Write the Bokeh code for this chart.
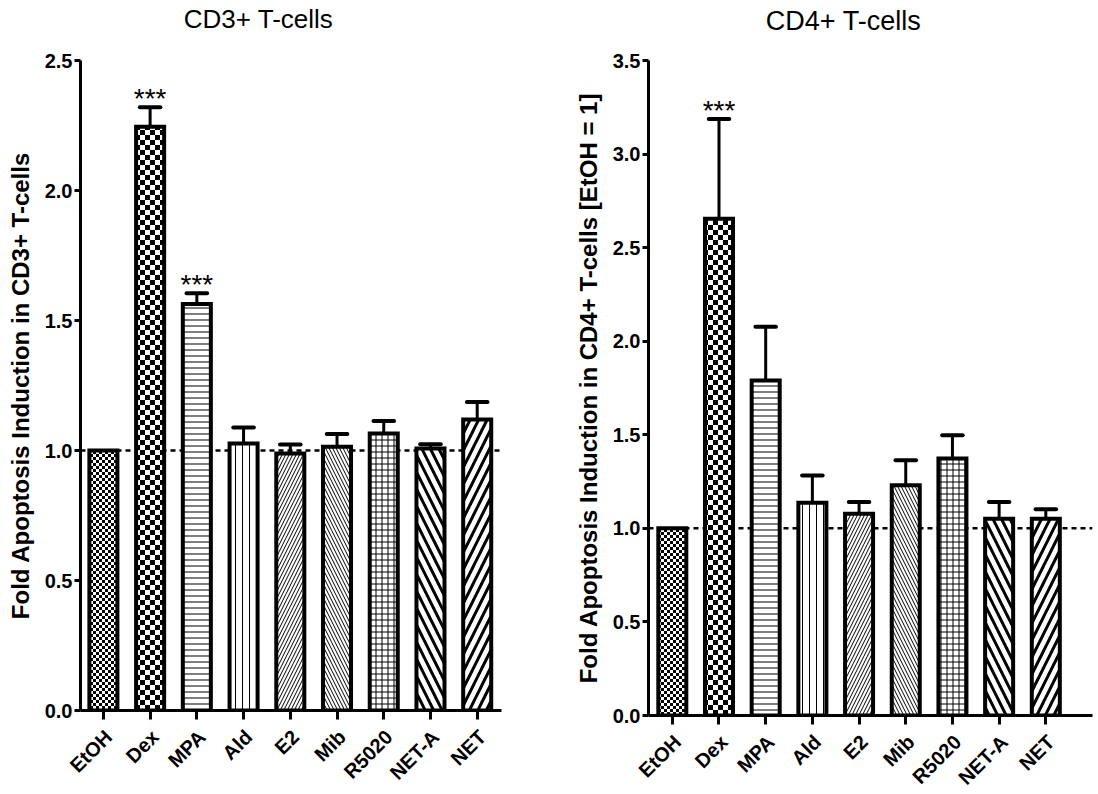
import math
from bokeh.plotting import figure
from bokeh.models import (Range1d, FixedTicker, Span, ColumnDataSource, CanvasTexture,
                          NumeralTickFormatter, LinearAxis)
from bokeh.layouts import row, column
from bokeh.embed import file_html
from bokeh.resources import INLINE
from bokeh.core.properties import value

# ---------------- data ----------------
categories = ["EtOH", "Dex", "MPA", "Ald", "E2", "Mib", "R5020", "NET-A", "NET"]

cd3_mean = [1.00, 2.245, 1.563, 1.027, 0.988, 1.014, 1.065, 1.008, 1.119]
cd3_sem = [0.0, 0.075, 0.042, 0.061, 0.035, 0.049, 0.048, 0.016, 0.068]
cd3_sig = ["", "***", "***", "", "", "", "", "", ""]

cd4_mean = [1.00, 2.655, 1.79, 1.137, 1.078, 1.23, 1.373, 1.052, 1.052]
cd4_sem = [0.0, 0.532, 0.287, 0.146, 0.063, 0.134, 0.124, 0.089, 0.05]
cd4_sig = ["", "***", "", "", "", "", "", "", ""]

cd3_yticks = [0.0, 0.5, 1.0, 1.5, 2.0, 2.5]
cd4_yticks = [0.0, 0.5, 1.0, 1.5, 2.0, 2.5, 3.0, 3.5]

titles = ["CD3+ T-cells", "CD4+ T-cells"]
ylabels = ["Fold Apoptosis Induction in CD3+ T-cells",
           "Fold Apoptosis Induction in CD4+ T-cells [EtOH = 1]"]

# ---------------- styles ----------------
patterns = ["fine_checker", "checker", "horizontal_line", "vertical_line",
            "right_diagonal_line", "left_diagonal_line", "cross",
            "left_diagonal_line", "right_diagonal_line"]
hscales = [6, 10, 6, 7, 7, 7, 6, 17, 17]
hweights = [1, 1, 1, 1, 1, 1, 1, 3, 3]

FONT = "Liberation Sans"
TITLE_H = 40


def checker_code(size):
    return f"""
const s = {size};
const cv = ctx.canvas;
cv.width = s; cv.height = s;
ctx.setTransform(1, 0, 0, 1, 0, 0);
ctx.clearRect(0, 0, s, s);
ctx.fillStyle = 'black';
ctx.fillRect(0, 0, s / 2, s / 2);
ctx.fillRect(s / 2, s / 2, s / 2, s / 2);
"""


def style_text(ax, label_size="20px"):
    ax.major_label_text_font = FONT
    ax.major_label_text_font_style = "bold"
    ax.major_label_text_font_size = label_size
    ax.major_label_text_color = "black"
    ax.axis_label_text_font = FONT
    ax.axis_label_text_font_style = "bold"
    ax.axis_label_text_font_size = "24px"
    ax.axis_label_text_color = "black"


def make_title(text, width, cx, cy, size):
    t = figure(width=width, height=TITLE_H, x_range=Range1d(0, width),
               y_range=Range1d(0, TITLE_H), output_backend="svg",
               toolbar_location=None, x_axis_location=None, y_axis_location=None,
               min_border=0)
    t.outline_line_color = None
    t.grid.visible = False
    t.text(x=[cx], y=[TITLE_H - cy], text=[text], text_font=value(FONT),
           text_font_size=size, text_align="center", text_baseline="middle",
           text_color="black")
    return t


def make_panel(ylabel, mean, sem, sig, yticks, ymax, xr, frame_w, frame_h, borders):
    xs = list(range(len(categories)))
    p = figure(frame_width=frame_w, frame_height=frame_h,
               x_range=Range1d(*xr), y_range=Range1d(0, ymax),
               output_backend="svg", toolbar_location=None,
               min_border_left=borders[0], min_border_right=borders[1],
               min_border_top=borders[2], min_border_bottom=borders[3])
    p.outline_line_color = None
    p.grid.visible = False
    p.background_fill_color = "white"
    p.border_fill_color = "white"

    p.add_layout(Span(location=1.0, dimension="width", line_color="black",
                      line_width=2.5, line_dash="5 4", level="underlay"))

    src = ColumnDataSource(dict(x=xs, top=mean, pattern=patterns,
                                scale=hscales, weight=hweights))
    tex = {"checker": CanvasTexture(code=checker_code(10)),
           "fine_checker": CanvasTexture(code=checker_code(6))}
    p.vbar(x="x", top="top", bottom=0, width=0.6, source=src,
           fill_color="white", line_color="black", line_width=4,
           line_join="miter",
           hatch_pattern="pattern", hatch_scale="scale", hatch_weight="weight",
           hatch_color="black", hatch_extra=tex)

    ex = [x for x, s in zip(xs, sem) if s > 0]
    elo = [m for m, s in zip(mean, sem) if s > 0]
    ehi = [m + s for m, s in zip(mean, sem) if s > 0]
    p.segment(x0=ex, y0=elo, x1=ex, y1=ehi, line_color="black", line_width=3)
    p.segment(x0=[x - 0.22 for x in ex], y0=ehi, x1=[x + 0.22 for x in ex], y1=ehi,
              line_color="black", line_width=4, line_cap="round")

    sx = [x for x, t in zip(xs, sig) if t]
    sy = [m + s for m, s, t in zip(mean, sem, sig) if t]
    st = [t for t in sig if t]
    p.text(x=sx, y=sy, text=st, text_font=value(FONT), text_font_size="28px",
           text_align="center", text_baseline="alphabetic", y_offset=-9,
           text_color="black")

    # primary x axis: line and ticks only
    xa = p.xaxis[0]
    xa.ticker = FixedTicker(ticks=xs)
    xa.major_label_overrides = {x: "" for x in xs}
    # y axis
    ya = p.yaxis[0]
    ya.ticker = FixedTicker(ticks=yticks)
    ya.formatter = NumeralTickFormatter(format="0.0")
    ya.axis_label = ylabel
    for ax in (xa, ya):
        ax.axis_line_width = 3
        ax.axis_line_color = "black"
        ax.major_tick_line_width = 3
        ax.major_tick_line_color = "black"
        ax.major_tick_in = 0
        ax.minor_tick_line_color = None
        style_text(ax)
    xa.major_label_text_font_size = "1px"
    xa.major_tick_out = 9
    xa.major_label_standoff = 0
    ya.major_tick_out = 6
    ya.major_label_standoff = 2
    ya.axis_label_standoff = 8

    # label axis, shifted right so the rotated labels end just right of each tick
    shift = 0.11
    p.extra_x_ranges = {"lab": Range1d(xr[0] - shift, xr[1] - shift)}
    la = LinearAxis(x_range_name="lab", ticker=FixedTicker(ticks=xs),
                    major_label_overrides={x: c for x, c in zip(xs, categories)},
                    major_label_orientation=math.pi / 4,
                    axis_line_color=None, major_tick_line_color=None,
                    minor_tick_line_color=None, major_tick_out=0, major_tick_in=0,
                    major_label_standoff=14)
    style_text(la, "20px")
    p.add_layout(la, "below")
    return p


p1 = make_panel(ylabels[0], cd3_mean, cd3_sem, cd3_sig, cd3_yticks, 2.5,
                (-0.49, 8.52), 421, 650, (80, 52, 20, 40))
p2 = make_panel(ylabels[1], cd4_mean, cd4_sem, cd4_sig, cd4_yticks, 3.5,
                (-0.51, 9.0), 444, 655, (95, 2, 17, 40))
t1 = make_title(titles[0], 553, 258, 18, "26px")
t2 = make_title(titles[1], 541, 290, 20, "27px")

layout = column(row(t1, t2), row(p1, p2))
open("out.html", "w").write(file_html(layout, INLINE))
